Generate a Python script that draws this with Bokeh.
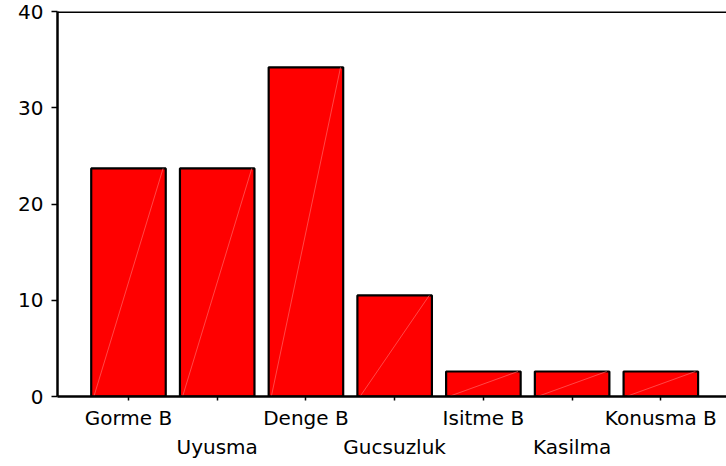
from bokeh.plotting import figure
from bokeh.models import ColumnDataSource, LinearAxis, FixedTicker, Span, Range1d
from bokeh.embed import file_html
from bokeh.resources import INLINE

categories = ["Gorme B", "Uyusma", "Denge B", "Gucsuzluk", "Isitme B", "Kasilma", "Konusma B"]
values = [23.7, 23.7, 34.2, 10.5, 2.6, 2.6, 2.6]
y_ticks = [0, 10, 20, 30, 40]

xs = list(range(1, len(categories) + 1))
bw = 0.84
src = ColumnDataSource(dict(
    x=xs, top=values,
    x0=[x - bw / 2 + 0.03 for x in xs], x1=[x + bw / 2 - 0.03 for x in xs],
    y0=[0] * len(xs),
))

FONT = "DejaVu Sans"
FS = "20px"

p = figure(width=726, height=466, output_backend="svg", toolbar_location=None,
           x_range=Range1d(0.2, 7.74), y_range=Range1d(0, 40),
           min_border_left=57, min_border_top=11, min_border_right=0, min_border_bottom=70,
           x_axis_type=None, y_axis_type=None)
p.outline_line_color = None
p.xgrid.visible = False
p.ygrid.visible = False
p.background_fill_color = "white"
p.border_fill_color = "white"

p.vbar(x="x", top="top", width=bw, bottom=0, source=src,
       fill_color="#ff0000", line_color="black", line_width=2.2)
p.segment(x0="x0", y0="y0", x1="x1", y1="top", source=src,
          line_color="#ff7070", line_width=0.8, line_alpha=0.8)

# y axis
yax = LinearAxis(ticker=FixedTicker(ticks=y_ticks))
yax.axis_line_width = 2.5
yax.axis_line_color = "black"
yax.major_tick_out = 6
yax.major_tick_in = 0
yax.major_tick_line_width = 1.5
yax.minor_tick_line_color = None
yax.major_label_standoff = 8
yax.major_label_text_font = FONT
yax.major_label_text_font_size = FS
yax.major_label_text_color = "black"
p.add_layout(yax, "left")

# x axis, first row of labels
row1 = {x: (c if i % 2 == 0 else "") for i, (x, c) in enumerate(zip(xs, categories))}
xax = LinearAxis(ticker=FixedTicker(ticks=xs), major_label_overrides=row1)
xax.axis_line_width = 2.5
xax.axis_line_color = "black"
xax.major_tick_out = 4
xax.major_tick_in = 0
xax.major_tick_line_width = 1.5
xax.minor_tick_line_color = None
xax.major_label_standoff = 5
xax.major_label_text_font = FONT
xax.major_label_text_font_size = FS
xax.major_label_text_color = "black"
p.add_layout(xax, "below")

# second row of labels
even_x = [x for i, x in enumerate(xs) if i % 2 == 1]
row2 = {x: c for i, (x, c) in enumerate(zip(xs, categories)) if i % 2 == 1}
xax2 = LinearAxis(ticker=FixedTicker(ticks=even_x), major_label_overrides=row2)
xax2.axis_line_color = None
xax2.major_tick_line_color = None
xax2.minor_tick_line_color = None
xax2.major_tick_out = 0
xax2.major_label_standoff = 2
xax2.major_label_text_font = FONT
xax2.major_label_text_font_size = FS
xax2.major_label_text_color = "black"
p.add_layout(xax2, "below")

p.add_layout(Span(location=40, dimension="width", line_color="black", line_width=3))

open("out.html", "w").write(file_html(p, INLINE))
